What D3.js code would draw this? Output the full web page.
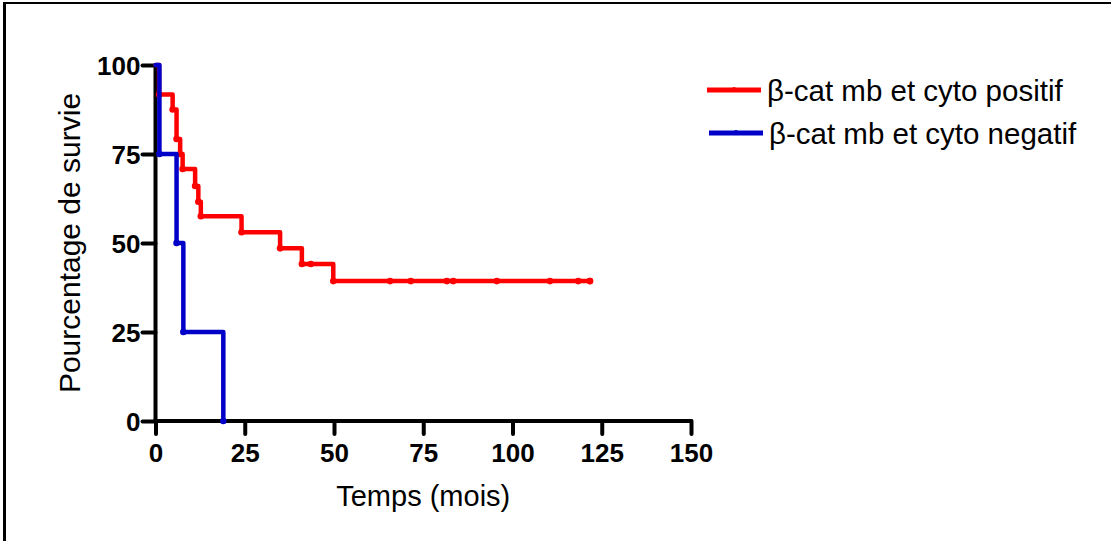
<!DOCTYPE html>
<html>
<head>
<meta charset="utf-8">
<script src="https://cdn.jsdelivr.net/npm/d3@7"></script>
<style>
  body { margin: 0; background: #fff; }
  svg { display: block; }
  text { font-family: "Liberation Sans", Arial, sans-serif; fill: #000; }
</style>
</head>
<body>
<div id="chart"></div>
<script>
// Kaplan-Meier steps: [time in months, survival %]
const positifSteps = [
  [0, 100], [1, 91.7], [4.8, 87.5], [5.9, 79.2], [6.9, 75], [7.6, 70.8],
  [11.1, 66.0], [12, 61.6], [12.7, 57.5], [24.1, 53.0], [34.9, 48.5],
  [41, 44.1], [49.8, 39.3], [121.7, 39.3]
];
const positifCensored = [
  [43.5, 44.1], [65.7, 39.3], [71.5, 39.3], [81.6, 39.3], [83.4, 39.3],
  [95.6, 39.3], [110.5, 39.3], [118.4, 39.3], [121.7, 39.3]
];
const negatifSteps = [[0, 100], [1.1, 75], [5.9, 50], [7.8, 25], [19, 0]];
const negatifCensored = [];

const xTicks = [0, 25, 50, 75, 100, 125, 150];
const yTicks = [0, 25, 50, 75, 100];

const seriesNames = ['β-cat mb et cyto positif', 'β-cat mb et cyto negatif'];
const seriesColors = ['#ff0000', '#0000c8'];

const width = 1111;
const height = 541;

const svg = d3.select('#chart')
  .append('svg')
  .attr('width', width)
  .attr('height', height);

// frame (only top and left edges show in the picture)
svg.append('line')
  .attr('x1', 4).attr('x2', width).attr('y1', 3).attr('y2', 3)
  .attr('stroke', '#000').attr('stroke-width', 2);
svg.append('line')
  .attr('x1', 4.5).attr('x2', 4.5).attr('y1', 2).attr('y2', height)
  .attr('stroke', '#000').attr('stroke-width', 3);

const x = d3.scaleLinear().domain([0, 150]).range([155.5, 691]);
const y = d3.scaleLinear().domain([0, 100]).range([421, 65]);

// axes
const xAxis = svg.append('g')
  .attr('transform', `translate(0,${y(0)})`)
  .call(d3.axisBottom(x).tickValues(xTicks).tickSize(13).tickPadding(10).tickFormat(d3.format('d')));
const yAxis = svg.append('g')
  .attr('transform', `translate(${x(0)},0)`)
  .call(d3.axisLeft(y).tickValues(yTicks).tickSize(13).tickPadding(2).tickFormat(d3.format('d')));

[xAxis, yAxis].forEach(ax => {
  ax.select('.domain')
    .attr('stroke', '#000')
    .attr('stroke-width', 4)
    .attr('stroke-linecap', 'round');
  ax.selectAll('.tick line')
    .attr('stroke', '#000')
    .attr('stroke-width', 4)
    .attr('stroke-linecap', 'round');
  ax.selectAll('.tick text')
    .style('font-size', '26px')
    .style('font-weight', 'bold')
    .attr('fill', '#000');
});
// plain axis lines without the outer ends that d3 adds
xAxis.select('.domain').attr('d', `M${x(0)},0H${x(150)}`);
yAxis.select('.domain').attr('d', `M0,${y(100)}V${y(0)}`);
yAxis.selectAll('.tick text').attr('dy', '0.36em');

// axis titles
svg.append('text')
  .attr('x', (x(0) + x(150)) / 2)
  .attr('y', 506)
  .attr('text-anchor', 'middle')
  .style('font-size', '29px')
  .text('Temps (mois)');

svg.append('text')
  .attr('transform', `translate(80,${(y(0) + y(100)) / 2}) rotate(-90)`)
  .attr('text-anchor', 'middle')
  .style('font-size', '30px')
  .text('Pourcentage de survie');

// survival curves
const stepLine = d3.line()
  .x(d => x(d[0]))
  .y(d => y(d[1]))
  .curve(d3.curveStepAfter);

const series = [
  { steps: positifSteps, censored: positifCensored },
  { steps: negatifSteps, censored: negatifCensored }
];

const curves = svg.append('g').attr('class', 'curves');

series.forEach((s, i) => {
  curves.append('path')
    .datum(s.steps)
    .attr('d', stepLine)
    .attr('fill', 'none')
    .attr('stroke', seriesColors[i])
    .attr('stroke-width', 4.5)
    .attr('stroke-linejoin', 'round')
    .attr('stroke-linecap', 'round');

  // small symbols at each event and each censored time
  const marks = s.steps.slice(1).concat(s.censored);
  curves.selectAll(`.mark-${i}`)
    .data(marks)
    .enter()
    .append('circle')
    .attr('class', `mark-${i}`)
    .attr('cx', d => x(d[0]))
    .attr('cy', d => y(d[1]))
    .attr('r', 3.3)
    .attr('fill', seriesColors[i]);
});

// legend
const legend = svg.append('g').attr('class', 'legend');
seriesNames.forEach((name, i) => {
  const ly = 90 + i * 43;
  legend.append('line')
    .attr('x1', 707 + i * 2).attr('x2', 761 + i * 2)
    .attr('y1', ly).attr('y2', ly)
    .attr('stroke', seriesColors[i])
    .attr('stroke-width', 5);
  legend.append('circle')
    .attr('cx', 734 + i * 2).attr('cy', ly - 1)
    .attr('r', 2)
    .attr('fill', seriesColors[i]);
  legend.append('text')
    .attr('x', 767 + i * 2)
    .attr('y', ly + 11)
    .style('font-size', '29.5px')
    .text(name);
});
</script>
</body>
</html>
